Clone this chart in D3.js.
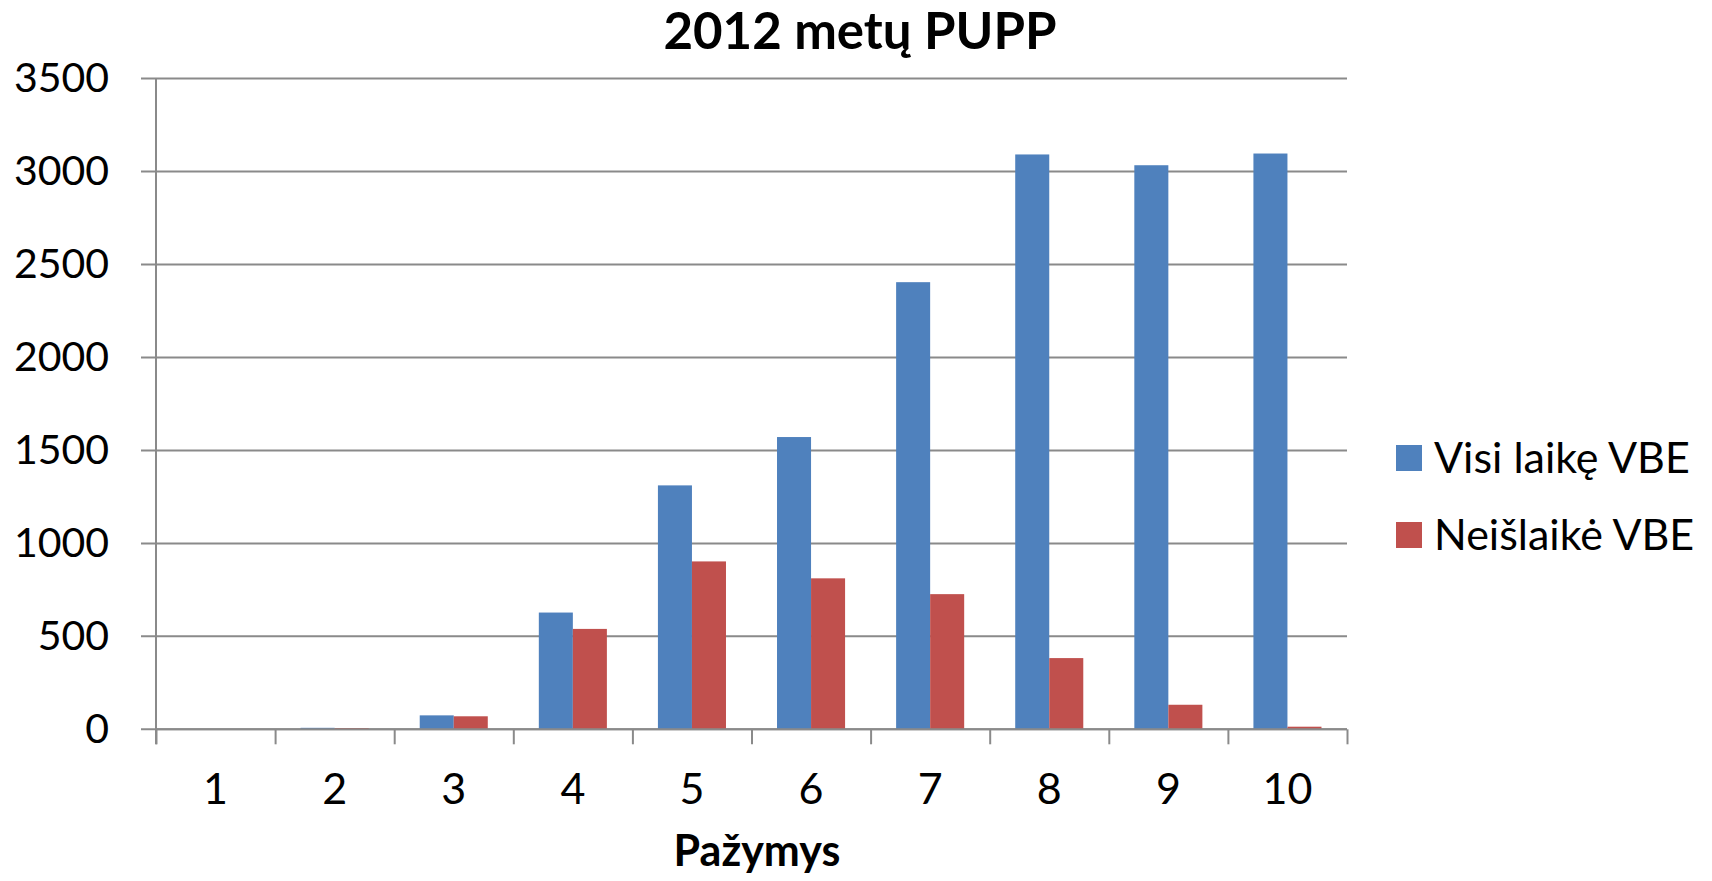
<!DOCTYPE html>
<html>
<head>
<meta charset="utf-8">
<title>2012 metų PUPP</title>
<script src="https://cdn.jsdelivr.net/npm/d3@7"></script>
<style>
  body { margin: 0; background: #fff; }
  text { font-family: Lato, "Open Sans", sans-serif; fill: #000; }
</style>
</head>
<body>
<div id="chart"></div>
<script>
// data
var grades = ["1", "2", "3", "4", "5", "6", "7", "8", "9", "10"];
var seriesNames = ["Visi laikę VBE", "Neišlaikė VBE"];
var visiLaike = [0, 8, 75, 628, 1312, 1572, 2405, 3092, 3034, 3097];
var neislaike = [0, 7, 70, 540, 903, 812, 727, 383, 132, 14];
var yTicks = [0, 500, 1000, 1500, 2000, 2500, 3000, 3500];
var colors = ["#4f81bd", "#c0504d"];

var W = 1712, H = 881;
var plotLeft = 156, plotRight = 1347, plotTop = 78.6, plotBottom = 729.3;
var gridColor = "#8a8a8a";

var svg = d3.select("#chart").append("svg")
    .attr("width", W)
    .attr("height", H);

var y = d3.scaleLinear().domain([0, 3500]).range([plotBottom, plotTop]);
var x0 = d3.scaleBand().domain(grades).range([plotLeft, plotRight]).padding(0);
var x1 = d3.scaleBand().domain(seriesNames).range([0, x0.bandwidth()])
    .paddingInner(0).paddingOuter(0.75);
var edge = d3.scaleLinear().domain([0, grades.length]).range([plotLeft, plotRight]);

// gridlines (with the little outside tick on the left)
svg.append("g")
    .selectAll("line")
    .data(yTicks)
    .enter().append("line")
    .attr("x1", plotLeft - 15)
    .attr("x2", plotRight)
    .attr("y1", function(d) { return y(d); })
    .attr("y2", function(d) { return y(d); })
    .attr("stroke", gridColor)
    .attr("stroke-width", 2);

// y labels
var yAxis = d3.axisLeft(y).tickValues(yTicks).tickSize(0).tickPadding(47).tickFormat(d3.format("d"));
var gy = svg.append("g")
    .attr("transform", "translate(" + plotLeft + ",0)")
    .call(yAxis);
gy.select(".domain").remove();
gy.selectAll("text").style("font-size", "41px").style("font-family", "Lato, sans-serif").attr("fill", "#000");

// bars
var rows = grades.map(function(g, i) { return { grade: g, vals: [visiLaike[i], neislaike[i]] }; });
svg.append("g")
    .selectAll("g")
    .data(rows)
    .enter().append("g")
    .attr("transform", function(d) { return "translate(" + x0(d.grade) + ",0)"; })
    .selectAll("rect")
    .data(function(d) { return d.vals.map(function(v, k) { return { name: seriesNames[k], v: v, k: k }; }); })
    .enter().append("rect")
    .attr("x", function(d) { return x1(d.name); })
    .attr("width", x1.bandwidth())
    .attr("y", function(d) { return y(d.v); })
    .attr("height", function(d) { return plotBottom - y(d.v); })
    .attr("fill", function(d) { return colors[d.k]; });

// y axis line
svg.append("line")
    .attr("x1", plotLeft).attr("x2", plotLeft)
    .attr("y1", plotTop).attr("y2", plotBottom + 15)
    .attr("stroke", gridColor).attr("stroke-width", 2);

// x axis boundary ticks
var tickAxis = d3.axisBottom(edge).ticks(grades.length).tickSize(15).tickFormat("");
var gt = svg.append("g")
    .attr("transform", "translate(0," + plotBottom + ")")
    .call(tickAxis);
gt.select(".domain").attr("stroke", gridColor).attr("stroke-width", 2).attr("d", "M" + plotLeft + ",0H" + plotRight);
gt.selectAll(".tick line").attr("stroke", gridColor).attr("stroke-width", 2);

// x labels
var xAxis = d3.axisBottom(x0).tickSize(0).tickPadding(60);
var gx = svg.append("g")
    .attr("transform", "translate(0," + plotBottom + ")")
    .call(xAxis);
gx.select(".domain").remove();
gx.selectAll("text").style("font-size", "43px").style("font-family", "Lato, sans-serif").attr("fill", "#000")
    .attr("dy", "0.35em");

// title
svg.append("text")
    .attr("x", 860)
    .attr("y", 49)
    .attr("text-anchor", "middle")
    .style("font-size", "51px")
    .style("font-weight", "bold")
    .text("2012 metų PUPP");

// x axis title
svg.append("text")
    .attr("x", 757)
    .attr("y", 866)
    .attr("text-anchor", "middle")
    .style("font-size", "43px")
    .style("font-weight", "bold")
    .text("Pažymys");

// legend
var legend = svg.append("g")
    .selectAll("g")
    .data(seriesNames)
    .enter().append("g")
    .attr("transform", function(d, i) { return "translate(1396," + (458 + i * 77) + ")"; });
legend.append("rect")
    .attr("x", 0).attr("y", -13)
    .attr("width", 26).attr("height", 26)
    .attr("fill", function(d, i) { return colors[i]; });
legend.append("text")
    .attr("x", 38)
    .attr("dy", "0.35em")
    .style("font-size", "43px")
    .text(function(d) { return d; });
</script>
</body>
</html>
